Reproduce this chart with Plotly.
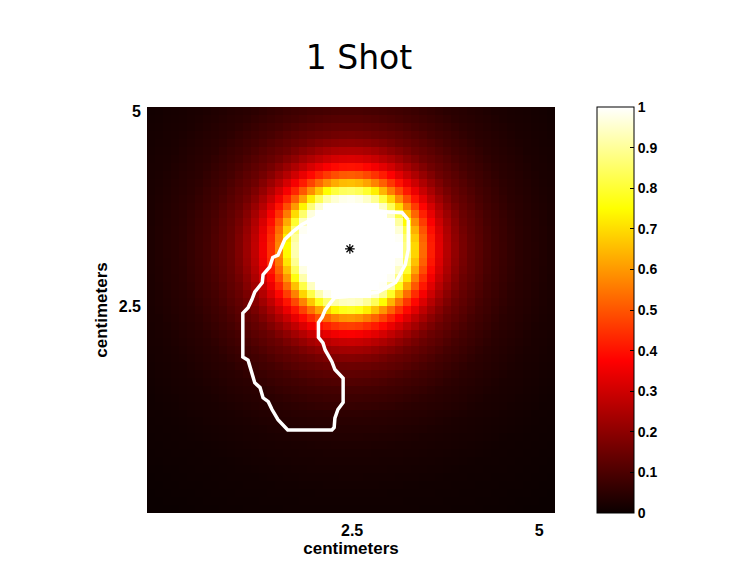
import numpy as np
import plotly.graph_objects as go

# ---- data ----
title_text = "1 Shot"
n_cells = 51                       # heatmap cells per side
x_extent = [-0.24, 5.21]           # centimeters covered by the image (x)
y_extent = [-0.13, 5.05]           # centimeters covered by the image (y)
peak_x = 2.47                      # asterisk / blob centre (cm)
peak_y = 3.24

# radial intensity profile of the blob, distance in cells -> value
profile_r_cells = [0, 6.2, 6.9, 7.6, 8.3, 9.0, 9.9, 10.9, 12.0, 13.3, 14.6, 17.6, 21.0, 25.4, 31.0, 40.0]
profile_values  = [1.0, 1.0, 0.92, 0.80, 0.66, 0.55, 0.44, 0.35, 0.27, 0.20, 0.15, 0.09, 0.05, 0.025, 0.01, 0.0]

# white contour (cm)
contour_x = [3.25, 3.17, 2.98, 2.71, 2.41, 2.18, 2.01, 1.83, 1.71, 1.60, 1.51, 1.44, 1.40, 1.31, 1.30,
             1.20, 1.16, 1.11, 1.04, 1.04, 1.11, 1.16, 1.20, 1.27, 1.31, 1.38, 1.43, 1.51, 1.64, 2.23,
             2.26, 2.27, 2.31, 2.38, 2.38, 2.27, 2.23, 2.14, 2.11, 2.05, 2.05, 2.10, 2.14, 2.21, 2.27,
             2.41, 2.85, 3.08, 3.21, 3.25, 3.25]
contour_y = [3.61, 3.70, 3.71, 3.74, 3.74, 3.70, 3.64, 3.55, 3.46, 3.36, 3.16, 3.13, 3.01, 2.91, 2.81,
             2.69, 2.59, 2.49, 2.42, 1.86, 1.82, 1.67, 1.53, 1.47, 1.34, 1.29, 1.19, 1.06, 0.93, 0.93,
             0.96, 1.08, 1.19, 1.28, 1.59, 1.70, 1.80, 1.95, 2.04, 2.11, 2.30, 2.37, 2.46, 2.55, 2.62,
             2.63, 2.69, 2.81, 3.04, 3.23, 3.61]

x_tick_vals = [2.5, 5]
x_tick_text = ["2.5", "5"]
y_tick_vals = [2.5, 5]
y_tick_text = ["2.5", "5"]
cbar_tick_vals = [0, 0.1, 0.2, 0.3, 0.4, 0.5, 0.6, 0.7, 0.8, 0.9, 1]
cbar_tick_text = ["0", "0.1", "0.2", "0.3", "0.4", "0.5", "0.6", "0.7", "0.8", "0.9", "1"]
axis_title = "centimeters"

# ---- build the grid ----
dx = (x_extent[1] - x_extent[0]) / n_cells
dy = (y_extent[1] - y_extent[0]) / n_cells
xs = x_extent[0] + (np.arange(n_cells) + 0.5) * dx
ys = y_extent[0] + (np.arange(n_cells) + 0.5) * dy
XX, YY = np.meshgrid(xs, ys)
dist_cells = np.sqrt(((XX - peak_x) / dx) ** 2 + ((YY - peak_y) / dy) ** 2)
z = np.interp(dist_cells, profile_r_cells, profile_values)

hot = [
    [0.0, "rgb(11,0,0)"],
    [0.375, "rgb(255,0,0)"],
    [0.75, "rgb(255,255,0)"],
    [1.0, "rgb(255,255,255)"],
]

bold = dict(family="Liberation Sans, Arial, sans-serif", size=16, color="black", weight="bold")
title_font = dict(family="Liberation Sans, Arial, sans-serif", size=17, color="black", weight="bold")

# page body has an 8px offset: margins compensate so the plot lands at x 147-555, y 107-513
OFF = 8

fig = go.Figure()
fig.add_trace(go.Heatmap(
    x=xs, y=ys, z=z, zmin=0, zmax=1, zsmooth=False,
    colorscale=hot, hoverinfo="skip",
    colorbar=dict(
        x=(597 - 147) / 408, xanchor="left", xpad=0, ypad=0,
        y=0, yanchor="bottom", len=1, lenmode="fraction",
        thickness=37, outlinewidth=1, outlinecolor="black",
        ticks="inside", ticklen=4, tickcolor="black",
        tickvals=cbar_tick_vals, ticktext=cbar_tick_text,
        tickfont=dict(family="Liberation Sans, Arial, sans-serif", size=14, color="black", weight="bold"),
    ),
))
fig.add_trace(go.Scatter(
    x=contour_x, y=contour_y, mode="lines",
    line=dict(color="white", width=3.5), hoverinfo="skip", showlegend=False,
))
fig.add_trace(go.Scatter(
    x=[peak_x], y=[peak_y], mode="markers",
    marker=dict(symbol="asterisk-open", size=8, color="black", line=dict(color="black", width=1.2)),
    hoverinfo="skip", showlegend=False,
))

fig.update_layout(
    width=752, height=561,
    margin=dict(l=147 - OFF, r=197 + OFF, t=107 - OFF, b=48 + OFF),
    paper_bgcolor="white", plot_bgcolor="black",
    title=dict(text=title_text, x=(359 - OFF) / 752, xanchor="center", xref="container",
               y=1 - (57 - OFF) / 561, yanchor="middle", yref="container",
               font=dict(family="DejaVu Sans, sans-serif", size=33, color="black")),
    showlegend=False,
)
fig.update_xaxes(
    range=x_extent, showgrid=False, zeroline=False, ticks="", ticklabelstandoff=6,
    tickvals=x_tick_vals, ticktext=x_tick_text, tickfont=bold,
    title=dict(text=axis_title, font=title_font, standoff=2),
    showline=False, fixedrange=True,
)
fig.update_yaxes(
    range=y_extent, showgrid=False, zeroline=False, ticks="", ticklabelstandoff=5,
    tickvals=y_tick_vals, ticktext=y_tick_text, tickfont=bold,
    title=dict(text=axis_title, font=title_font, standoff=6),
    showline=False, fixedrange=True,
)

fig.write_html("out.html")
